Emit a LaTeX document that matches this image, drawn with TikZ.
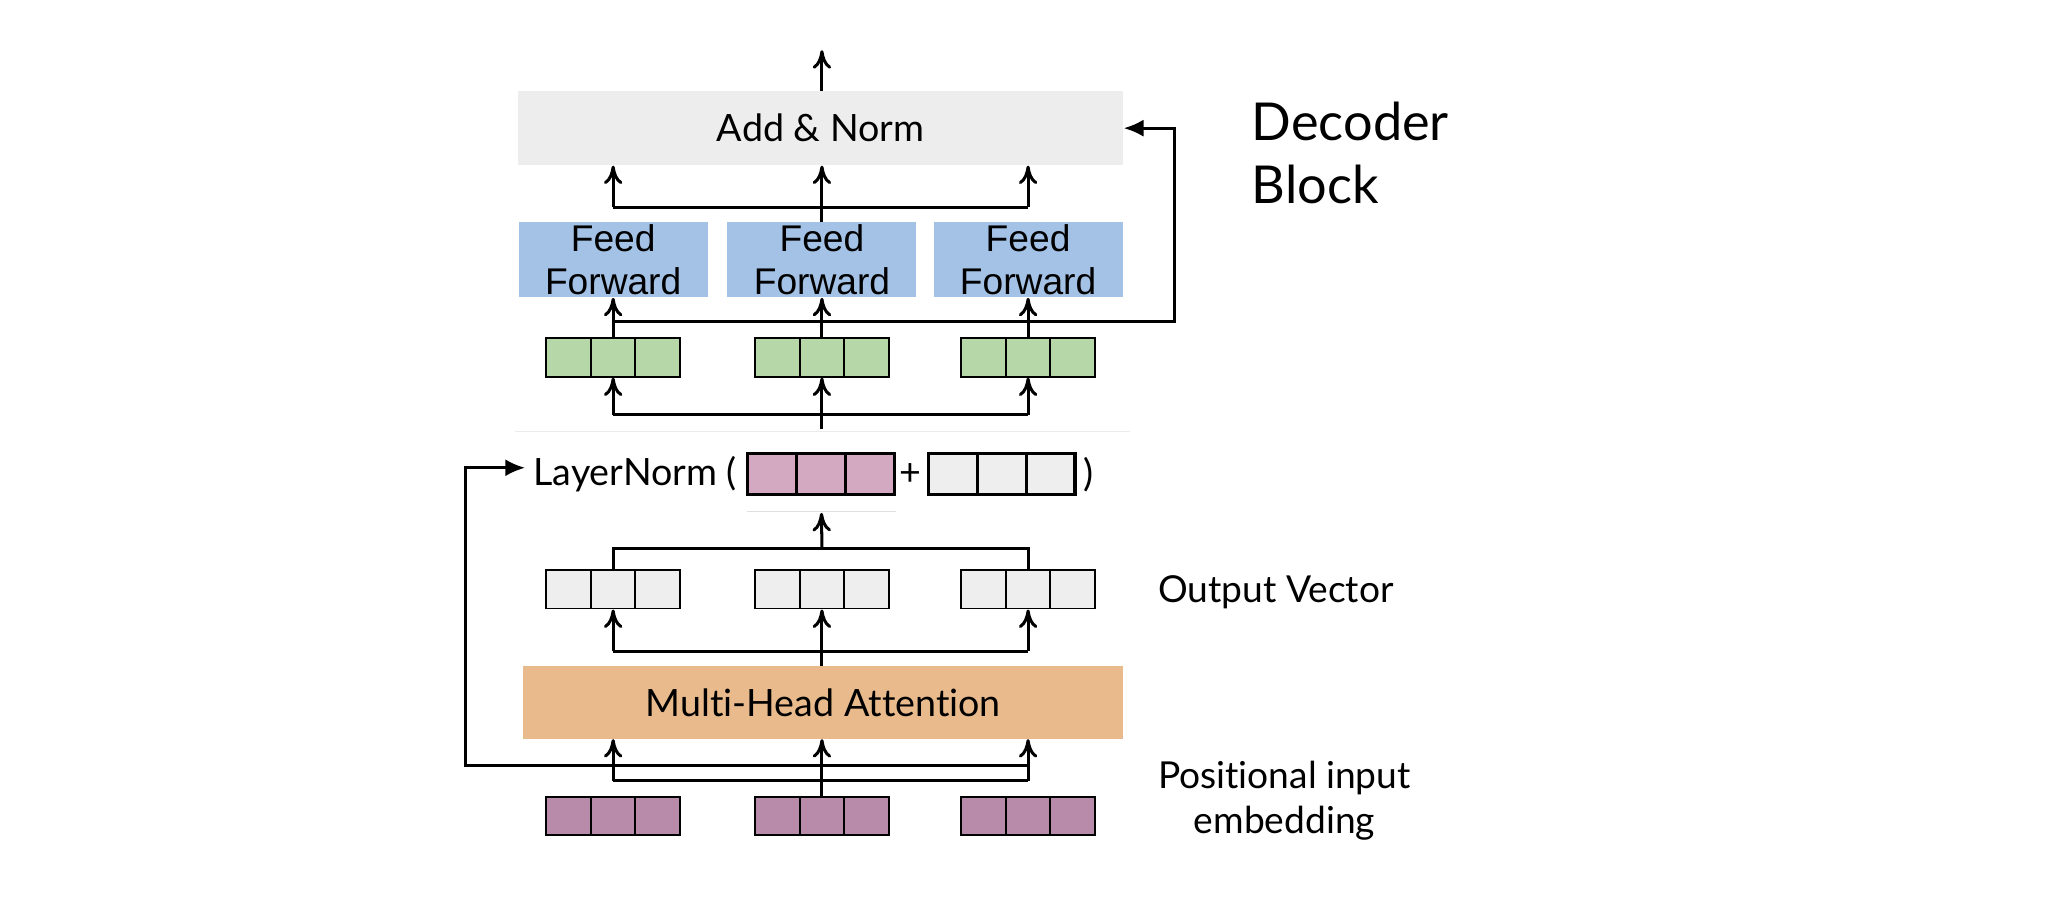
\documentclass[tikz,border=0pt]{standalone}
\usepackage{fontspec}
\setmainfont{Lato}[Ligatures=NoCommon]
\newfontfamily\ffsans{Liberation Sans}
\usetikzlibrary{arrows.meta}
\definecolor{normgrey}{HTML}{EDEDED}
\definecolor{ffblue}{HTML}{A4C2E6}
\definecolor{vecgreen}{HTML}{B6D7A8}
\definecolor{lnpink}{HTML}{D3A9C1}
\definecolor{vecgrey}{HTML}{EEEEEE}
\definecolor{mhatan}{HTML}{E8BA8C}
\definecolor{embpink}{HTML}{B98BAA}
\tikzstyle{block}=[rectangle, inner sep=0pt, font=\fontsize{16.2}{19}\selectfont]
\tikzstyle{ffbox}=[rectangle, fill=ffblue, minimum width=2.86cm, minimum height=1.14cm, inner sep=0pt, align=center, font=\ffsans\fontsize{16}{18.7}\selectfont]
\tikzstyle{cell}=[rectangle, draw, line width=0.85pt, minimum width=0.674cm, minimum height=0.58cm, inner sep=0pt]
\tikzstyle{lncell}=[cell, line width=1.3pt, minimum width=0.74cm, minimum height=0.62cm]
\tikzstyle{link}=[draw, line width=1.3pt]
\tikzstyle{residual}=[draw, line width=1.3pt, -{Latex[length=0.3cm,width=0.26cm]}]
\tikzstyle{sidetext}=[inner sep=0pt, font=\fontsize{16}{19.3}\selectfont, align=center]

\begin{document}
\begin{tikzpicture}[>={Computer Modern Rightarrow[length=0.28cm,width=0.28cm]}]
    \useasboundingbox (0,0) rectangle (31.36,13.98);
    % the three vector rows: embedding, output, feed forward input
    \foreach \row/\y/\col in {emb/1.63/embpink, out/5.06/vecgrey, grn/8.57/vecgreen}
        \foreach \i/\x in {1/9.28, 2/12.44, 3/15.56}
            \foreach \j in {1,2,3}
                \node[cell, fill=\col] (\row\i\j) at ({\x+(\j-2)*0.674}, \y) {};

    % blocks
    \node[block, fill=mhatan, minimum width=9.08cm, minimum height=1.1cm] (mha) at (12.46,3.35) {Multi-Head Attention};
    \node[block, fill=normgrey, minimum width=9.16cm, minimum height=1.12cm] (addnorm) at (12.42,12.04) {Add \& Norm};
    \foreach \i/\x in {1/9.28, 2/12.44, 3/15.56}
        \node[ffbox] (ff\i) at (\x,10.05) {Feed\\Forward};

    % LayerNorm row
    \node[block, anchor=east] (lntext) at (11.16,6.8) {LayerNorm (};
    \foreach \j in {1,2,3}
        \node[lncell, fill=lnpink] (pk\j) at ({12.43+(\j-2)*0.74},6.8) {};
    \node[block] (plus) at (13.78,6.8) {+};
    \foreach \j in {1,2,3}
        \node[lncell, fill=vecgrey] (gy\j) at ({15.16+(\j-2)*0.74},6.8) {};
    \node[block] (rparen) at (16.48,6.8) {)};
    \draw[black!12, line width=0.6pt] (11.3,6.24) -- (13.56,6.24);
    \draw[black!8, line width=0.6pt] (7.8,7.45) -- (17.1,7.45);

    % lower connectors
    \coordinate (barA) at (0,2.16);
    \coordinate (resL) at (7.04,2.4);
    \path[link] (emb22.north) -- (emb22.north |- barA);
    \path[link] (emb12.north |- barA) -- (emb32.north |- barA);
    \foreach \i in {1,2,3}
        \path[link, ->] (emb\i2.north |- barA) -- (emb\i2.north |- mha.south);
    \path[residual] (emb32.north |- resL) -- (resL) |- ([xshift=-0.12cm, yshift=0.1cm]lntext.west);

    \coordinate (barB) at (0,4.12);
    \path[link, ->] (mha.north -| out22.south) -- (out22.south);
    \path[link] (out12.south |- barB) -- (out32.south |- barB);
    \path[link, ->] (out12.south |- barB) -- (out12.south);
    \path[link, ->] (out32.south |- barB) -- (out32.south);

    \coordinate (barC) at (0,5.68);
    \path[link] (out12.north) -- (out12.north |- barC) -- (out32.north |- barC) -- (out32.north);
    \path[link, ->, shorten >=0.25cm] (out22.north |- barC) -- (pk2.south);

    % upper connectors
    \coordinate (gin) at (12.44,7.48);
    \coordinate (barD) at (0,7.70);
    \path[link] (gin) -- (gin |- barD);
    \path[link] (grn12.south |- barD) -- (grn32.south |- barD);
    \foreach \i in {1,2,3} {
        \path[link, ->] (grn\i2.south |- barD) -- (grn\i2.south);
        \path[link, ->] (grn\i2.north) -- (grn\i2.north |- ff\i.south);
    }
    \coordinate (resR) at (17.78,9.12);
    \path[residual] (grn12.north |- resR) -- (resR) |- (addnorm.east);

    \coordinate (barE) at (0,10.84);
    \path[link, ->] (ff2.north) -- (ff2.north |- addnorm.south);
    \path[link] (ff1.north |- barE) -- (ff3.north |- barE);
    \path[link, ->] (ff1.north |- barE) -- (ff1.north |- addnorm.south);
    \path[link, ->] (ff3.north |- barE) -- (ff3.north |- addnorm.south);
    \coordinate (outtop) at (12.44,13.22);
    \path[link, ->] (addnorm.north -| outtop) -- (outtop);

    % side labels
    \node[sidetext, anchor=west, align=left, font=\fontsize{22.5}{27}\selectfont] (title) at (18.94,11.66) {Decoder\\Block};
    \node[sidetext, anchor=west] (outlabel) at (17.52,5.02) {Output Vector};
    \node[sidetext] (emblabel) at (19.44,1.86) {Positional input\\embedding};
\end{tikzpicture}
\end{document}
